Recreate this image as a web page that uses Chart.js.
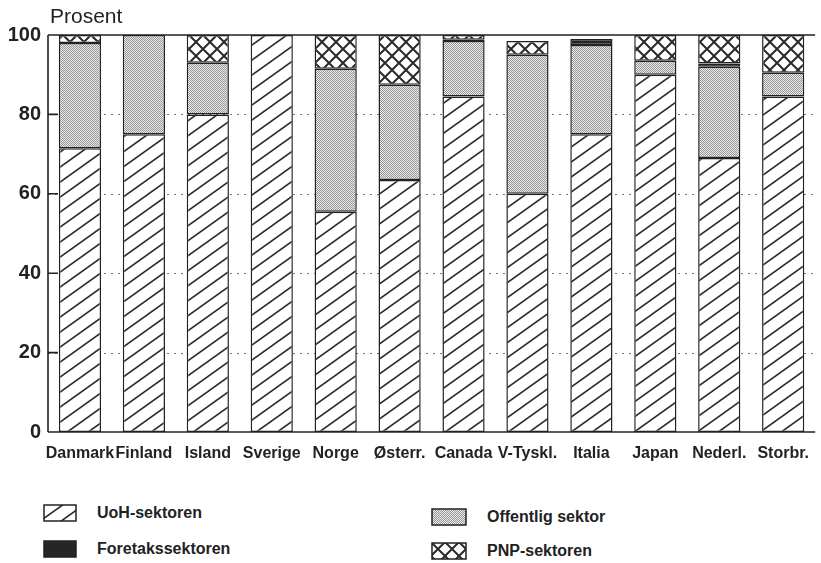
<!DOCTYPE html>
<html>
<head>
<meta charset="utf-8">
<script src="https://cdn.jsdelivr.net/npm/chart.js@4"></script>
<style>
    body { margin: 0; background: #fff; font-family: "Liberation Sans", Arial, sans-serif; }
    #wrap { position: relative; width: 821px; height: 563px; }
    #chart { position: absolute; left: 0; top: 0; }
    .leg { position: absolute; display: flex; align-items: center; font-size: 16px; font-weight: bold; color: #222; }
    .leg canvas { margin-right: 20px; }
</style>
</head>
<body>
<div id="wrap">
    <canvas id="chart" width="821" height="470"></canvas>
    <div class="leg" style="left:43px; top:504px;"><canvas id="sw0" width="34" height="18"></canvas>UoH-sektoren</div>
    <div class="leg" style="left:43px; top:540px;"><canvas id="sw2" width="34" height="18"></canvas>Foretakssektoren</div>
    <div class="leg" style="left:431px; top:508px;"><canvas id="sw1" width="36" height="18"></canvas>Offentlig sektor</div>
    <div class="leg" style="left:431px; top:542px;"><canvas id="sw3" width="36" height="18"></canvas>PNP-sektoren</div>
</div>
<script>
const categories = ['Danmark', 'Finland', 'Island', 'Sverige', 'Norge', 'Østerr.', 'Canada', 'V-Tyskl.', 'Italia', 'Japan', 'Nederl.', 'Storbr.'];
const uohValues = [71.5, 75, 80, 100, 55.5, 63.5, 84.5, 60, 75, 90, 69, 84.5];
const offentligValues = [26.5, 25, 13, 0, 36, 24, 14, 35, 22.5, 3.5, 23, 6];
const foretakValues = [0, 0, 0, 0, 0, 0, 0.3, 0, 1.5, 0, 0.8, 0];
const pnpValues = [2, 0, 7, 0, 8.5, 12.5, 1.2, 3.5, 0, 6.5, 7.2, 9.5];
const yTicks = [0, 20, 40, 60, 80, 100];

// patterns
function makeHatch() {
    const w = 21, h = 15;
    const c = document.createElement('canvas');
    c.width = w; c.height = h;
    const g = c.getContext('2d');
    g.fillStyle = '#fff';
    g.fillRect(0, 0, w, h);
    g.strokeStyle = '#2a2a2a';
    g.lineWidth = 1.6;
    [-w, 0, w].forEach(dx => {
        g.beginPath();
        g.moveTo(dx - w, 2 * h);
        g.lineTo(dx + 2 * w, -h);
        g.stroke();
    });
    return g.createPattern(c, 'repeat');
}

function makeCross() {
    const s = 14;
    const c = document.createElement('canvas');
    c.width = s; c.height = s;
    const g = c.getContext('2d');
    g.fillStyle = '#fff';
    g.fillRect(0, 0, s, s);
    g.strokeStyle = '#2a2a2a';
    g.lineWidth = 2;
    [-s, 0, s].forEach(dx => {
        g.beginPath();
        g.moveTo(dx, 0); g.lineTo(dx + s, s);
        g.moveTo(dx, s); g.lineTo(dx + s, 0);
        g.stroke();
    });
    return g.createPattern(c, 'repeat');
}

function makeDots() {
    const c = document.createElement('canvas');
    c.width = 2; c.height = 2;
    const g = c.getContext('2d');
    g.fillStyle = '#ececec';
    g.fillRect(0, 0, 2, 2);
    g.fillStyle = '#959595';
    g.fillRect(0, 0, 1, 1);
    g.fillRect(1, 1, 1, 1);
    return g.createPattern(c, 'repeat');
}

const fills = [makeHatch(), makeDots(), '#262626', makeCross()];

// legend swatches
fills.forEach((f, i) => {
    const sw = document.getElementById('sw' + i);
    const g = sw.getContext('2d');
    g.fillStyle = f;
    g.fillRect(1, 1, sw.width - 2, sw.height - 2);
    g.strokeStyle = '#222';
    g.lineWidth = 1.5;
    g.strokeRect(1, 1, sw.width - 2, sw.height - 2);
});

// axis frame, dotted grid and inner tick marks
const framePlugin = {
    id: 'frame',
    beforeDatasetsDraw(chart) {
        const ctx = chart.ctx;
        const y = chart.scales.y;
        const area = chart.chartArea;
        ctx.save();
        ctx.strokeStyle = '#777';
        ctx.lineWidth = 1;
        ctx.setLineDash([2, 5]);
        yTicks.slice(1, -1).forEach(v => {
            const py = Math.round(y.getPixelForValue(v)) + 0.5;
            ctx.beginPath();
            ctx.moveTo(area.left, py);
            ctx.lineTo(area.right, py);
            ctx.stroke();
        });
        ctx.restore();
    },
    afterDatasetsDraw(chart) {
        const ctx = chart.ctx;
        const y = chart.scales.y;
        const area = chart.chartArea;
        ctx.save();
        ctx.strokeStyle = '#222';
        ctx.lineWidth = 1.6;
        ctx.beginPath();
        ctx.moveTo(area.left, y.getPixelForValue(0));
        ctx.lineTo(area.right, y.getPixelForValue(0));
        ctx.moveTo(area.left, y.getPixelForValue(100));
        ctx.lineTo(area.right, y.getPixelForValue(100));
        ctx.moveTo(area.left, y.getPixelForValue(0));
        ctx.lineTo(area.left, y.getPixelForValue(100));
        yTicks.forEach(v => {
            const py = y.getPixelForValue(v);
            ctx.moveTo(area.left, py);
            ctx.lineTo(area.left + 10, py);
        });
        ctx.stroke();
        ctx.fillStyle = '#222';
        ctx.font = '21px "Liberation Sans", Arial, sans-serif';
        ctx.textBaseline = 'alphabetic';
        ctx.fillText('Prosent', 50, 23);
        ctx.restore();
    }
};

function makeDataset(label, values, fill) {
    return {
        label: label,
        data: values,
        backgroundColor: fill,
        borderColor: '#222',
        borderWidth: c => (c.raw ? 1.5 : 0),
        borderSkipped: false,
        barPercentage: 0.66,
        categoryPercentage: 1
    };
}

new Chart(document.getElementById('chart').getContext('2d'), {
    type: 'bar',
    data: {
        labels: categories,
        datasets: [
            makeDataset('UoH-sektoren', uohValues, fills[0]),
            makeDataset('Offentlig sektor', offentligValues, fills[1]),
            makeDataset('Foretakssektoren', foretakValues, fills[2]),
            makeDataset('PNP-sektoren', pnpValues, fills[3])
        ]
    },
    options: {
        responsive: false,
        animation: false,
        layout: { padding: { top: 35, right: 1, left: 0, bottom: 0 } },
        plugins: {
            legend: { display: false },
            tooltip: { enabled: false }
        },
        scales: {
            x: {
                stacked: true,
                grid: { display: false, drawTicks: false },
                border: { display: false },
                ticks: {
                    autoSkip: false,
                    maxRotation: 0,
                    padding: 12,
                    color: '#222',
                    font: { family: '"Liberation Sans", Arial, sans-serif', size: 16, weight: 'bold' }
                },
                afterFit: s => { s.height = 38; }
            },
            y: {
                stacked: true,
                min: 0,
                max: 100,
                grid: { display: false, drawTicks: false },
                border: { display: false },
                ticks: {
                    stepSize: 20,
                    padding: 7,
                    color: '#222',
                    font: { family: '"Liberation Sans", Arial, sans-serif', size: 20, weight: 'bold' }
                },
                afterFit: s => { s.width = 48; }
            }
        }
    },
    plugins: [framePlugin]
});
</script>
</body>
</html>
